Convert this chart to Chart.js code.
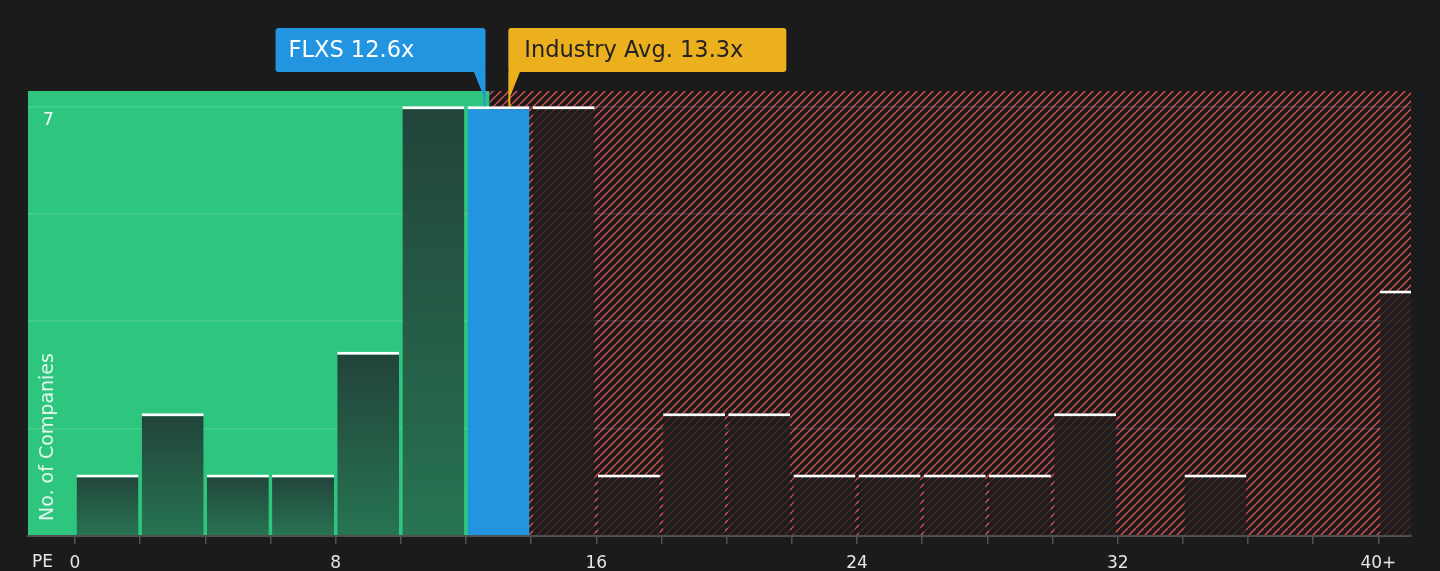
<!DOCTYPE html>
<html>
<head>
<meta charset="utf-8">
<script src="https://cdn.jsdelivr.net/npm/chart.js@4/dist/chart.umd.min.js"></script>
<style>
  body { margin: 0; background: #1b1b1b; }
  #wrap { width: 1440px; height: 571px; }
</style>
</head>
<body>
<div id="wrap"><canvas id="chart"></canvas></div>
<script>
// histogram bins (PE), 2 wide, last one is 40+
const binCenters = [1, 3, 5, 7, 9, 11, 13, 15, 17, 19, 21, 23, 25, 27, 29, 31, 33, 35, 37, 39, 41];
const companyCounts = [1, 2, 1, 1, 3, 7, 7, 7, 1, 2, 2, 1, 1, 1, 1, 2, 0, 1, 0, 0, 4];
const xTicks = [0, 2, 4, 6, 8, 10, 12, 14, 16, 18, 20, 22, 24, 26, 28, 30, 32, 34, 36, 38, 40];
const yGrid = [0, 1.75, 3.5, 5.25, 7];
const yLabel = 7;
const companyPE = 12.6;
const industryPE = 13.3;
const companyLabel = "FLXS 12.6x";
const industryLabel = "Industry Avg. 13.3x";

const FONT = "'DejaVu Sans', sans-serif";

function hatchPattern() {
  const c = document.createElement("canvas");
  c.width = 8; c.height = 8;
  const g = c.getContext("2d");
  g.fillStyle = "#1b1b1b";
  g.fillRect(0, 0, 8, 8);
  g.strokeStyle = "#d65050";
  g.lineWidth = 1.5;
  g.beginPath();
  for (let k = -1; k <= 1; k++) {
    g.moveTo(k * 8, 8);
    g.lineTo(k * 8 + 8, 0);
  }
  g.stroke();
  return g.createPattern(c, "repeat");
}

const zonesPlugin = {
  id: "zones",
  beforeDraw(chart) {
    const { ctx, chartArea: a, scales } = chart;
    const split = scales.x.getPixelForValue(companyPE) + 4;
    ctx.save();
    ctx.fillStyle = "#2ec67e";
    ctx.fillRect(a.left, a.top, split - a.left, a.bottom - a.top);
    ctx.fillStyle = hatchPattern();
    ctx.fillRect(split, a.top, a.right - split, a.bottom - a.top);
    ctx.restore();
  },
  afterDraw(chart) {
    const { ctx, chartArea: a, scales } = chart;
    const top = scales.y.getPixelForValue(7);
    ctx.save();

    // y tick label, inside the plot
    ctx.font = "17px " + FONT;
    ctx.fillStyle = "#ffffff";
    ctx.textAlign = "left";
    ctx.textBaseline = "middle";
    ctx.fillText(String(yLabel), a.left + 15, scales.y.getPixelForValue(yLabel) + 14);

    // y title inside the plot
    ctx.translate(48, a.bottom - 15);
    ctx.rotate(-Math.PI / 2);
    ctx.font = "19px " + FONT;
    ctx.fillStyle = "rgba(255,255,255,0.85)";
    ctx.fillText("No. of Companies", 0, 0);
    ctx.setTransform(1, 0, 0, 1, 0, 0);
    ctx.scale(chart.currentDevicePixelRatio, chart.currentDevicePixelRatio);

    ctx.font = "17px " + FONT;
    ctx.fillStyle = "#e6e6e6";
    ctx.fillText("PE", 32, 563);

    // company label
    const bx = scales.x.getPixelForValue(companyPE);
    ctx.fillStyle = "#2394e0";
    ctx.beginPath();
    ctx.roundRect(bx - 210, 28, 210, 44, 3);
    ctx.fill();
    ctx.beginPath();
    ctx.moveTo(bx - 12, 71);
    ctx.lineTo(bx, 71);
    ctx.lineTo(bx, top);
    ctx.lineTo(bx - 2, top);
    ctx.lineTo(bx - 2, 96);
    ctx.closePath();
    ctx.fill();
    ctx.font = "22.5px " + FONT;
    ctx.fillStyle = "#ffffff";
    ctx.fillText(companyLabel, bx - 197, 51);

    // industry label
    const ix = scales.x.getPixelForValue(industryPE);
    ctx.fillStyle = "#ecb01f";
    ctx.beginPath();
    ctx.roundRect(ix, 28, 278, 44, 3);
    ctx.fill();
    ctx.beginPath();
    ctx.moveTo(ix, 71);
    ctx.lineTo(ix + 12, 71);
    ctx.lineTo(ix + 2, 96);
    ctx.lineTo(ix + 2, top);
    ctx.lineTo(ix, top);
    ctx.closePath();
    ctx.fill();
    ctx.fillStyle = "#222222";
    ctx.fillText(industryLabel, ix + 16, 51);
    ctx.restore();
  }
};

function barColor(context) {
  const chart = context.chart;
  const i = context.dataIndex;
  const x = binCenters[i];
  if (x - 1 <= companyPE && companyPE < x + 1) return "#2394e0";
  if (x > companyPE) return "rgba(32,28,28,0.78)";
  const a = chart.chartArea;
  if (!a) return "#245a44";
  const y = chart.scales.y;
  const g = chart.ctx.createLinearGradient(0, y.getPixelForValue(companyCounts[i]), 0, a.bottom);
  g.addColorStop(0, "#22433a");
  g.addColorStop(1, "#277452");
  return g;
}

new Chart(document.getElementById("chart"), {
  type: "bar",
  data: {
    datasets: [{
      data: binCenters.map((x, i) => ({ x: x, y: companyCounts[i] })),
      backgroundColor: barColor,
      borderColor: "#ffffff",
      borderWidth: (c) => companyCounts[c.dataIndex] > 0 ? { top: 3, left: 0, right: 0, bottom: 0 } : 0,
      borderSkipped: false,
      barPercentage: 0.95,
      categoryPercentage: 1
    }]
  },
  options: {
    responsive: true,
    maintainAspectRatio: false,
    animation: false,
    layout: { padding: { left: 28, right: 29, top: 91, bottom: -12 } },
    plugins: { legend: { display: false }, tooltip: { enabled: false } },
    scales: {
      x: {
        type: "linear",
        offset: false,
        min: -1.44,
        max: 41,
        afterBuildTicks: (s) => { s.ticks = xTicks.map(v => ({ value: v })); },
        grid: { offset: false, drawOnChartArea: false, drawTicks: true, tickLength: 8, color: "#505050", lineWidth: 1.5 },
        border: { color: "#505050", width: 2 },
        ticks: {
          autoSkip: false,
          maxRotation: 0,
          color: "#e6e6e6",
          font: { family: FONT, size: 17, lineHeight: 1 },
          padding: 11,
          callback: (v) => v % 8 === 0 ? (v === 40 ? "40+" : String(v)) : ""
        }
      },
      y: {
        min: 0,
        max: 7.25,
        afterBuildTicks: (s) => { s.ticks = yGrid.map(v => ({ value: v })); },
        grid: { color: "rgba(255,255,255,0.12)", drawTicks: false, lineWidth: 1.5 },
        border: { display: false },
        ticks: { display: false }
      }
    }
  },
  plugins: [zonesPlugin]
});
</script>
</body>
</html>
